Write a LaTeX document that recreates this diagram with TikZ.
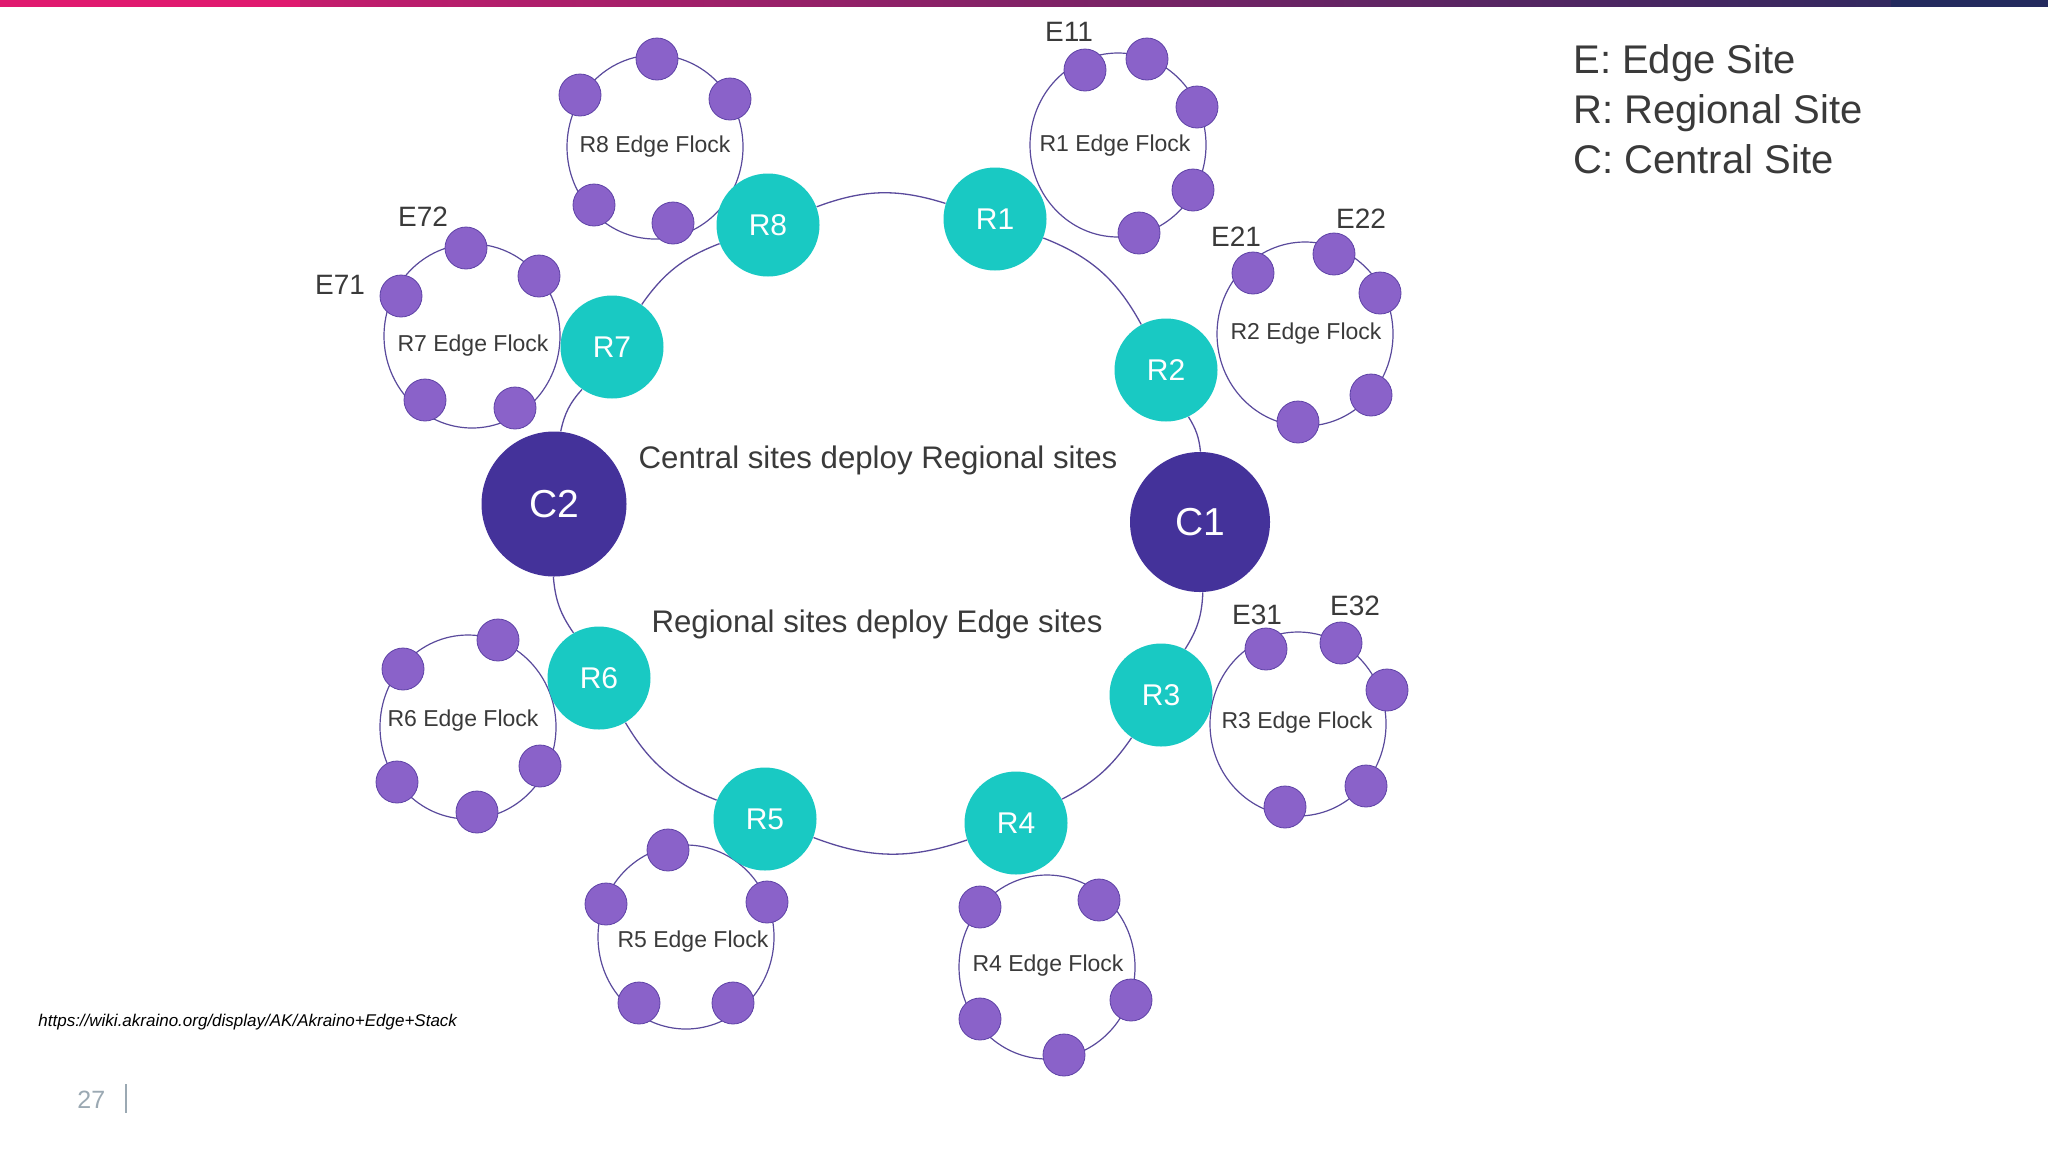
\documentclass[tikz,border=0pt]{standalone}
\usepackage{fontspec}
\setmainfont{Liberation Sans}
\usetikzlibrary{shapes.geometric}
\definecolor{teal1}{HTML}{19C9C3}
\definecolor{cdark}{HTML}{44329A}
\definecolor{dotfill}{HTML}{8A62C9}
\definecolor{dotline}{HTML}{5E42A6}
\definecolor{ringc}{HTML}{5A4A9C}
\definecolor{txt}{HTML}{3A3A3A}
\definecolor{pinkc}{HTML}{E01A6F}
\definecolor{magc}{HTML}{7A1F6E}
\definecolor{navyc}{HTML}{242A5E}
\definecolor{grayc}{HTML}{9BA9B3}
\begin{document}
\begin{tikzpicture}[x=0.5pt,y=-0.5pt,
 rsite/.style={circle,fill=teal1,minimum size=51.5pt,inner sep=0pt,text=white,font=\fontsize{15}{18}\selectfont},
 csite/.style={circle,fill=cdark,inner sep=0pt,text=white,font=\fontsize{19.5}{23}\selectfont},
 esite/.style={circle,fill=dotfill,draw=dotline,line width=0.4pt,minimum size=21pt,inner sep=0pt},
 flock/.style={ellipse,draw=ringc,line width=0.6pt,minimum width=88pt,minimum height=92pt,inner sep=0pt},
 flocktext/.style={text=txt,font=\fontsize{11.5}{14}\selectfont,inner sep=0pt},
 elabel/.style={text=txt,font=\fontsize{14}{16}\selectfont,inner sep=0pt},
 ring/.style={draw=ringc,line width=0.65pt},
 caption/.style={text=txt,font=\fontsize{15.6}{18}\selectfont,inner sep=0pt,anchor=base},
 legend/.style={text=txt,font=\fontsize{20}{24}\selectfont,inner sep=0pt,anchor=base west}]

\useasboundingbox (0,0) rectangle (2048,1152);
\fill[white] (0,0) rectangle (2048,1152);

% top bar
\shade[left color=pinkc,middle color=magc,right color=navyc] (0,0) rectangle (2048,6);
\fill[pinkc] (0,0) rectangle (300,7);
\fill[navyc] (1891,0) rectangle (2048,7);

% flock ellipses
\node[flock] (F8) at (655,147) {};
\node[flock] (F1) at (1118,145) {};
\node[flock] (F2) at (1305,334) {};
\node[flock] (F3) at (1298,724) {};
\node[flock] (F4) at (1047,967) {};
\node[flock] (F5) at (686,937) {};
\node[flock] (F6) at (468,727) {};
\node[flock] (F7) at (472,336) {};

% flock texts
\node[flocktext] (T8) at (655,147) {R8 Edge Flock};
\node[flocktext] (T1) at (1115,146) {R1 Edge Flock};
\node[flocktext] (T2) at (1306,334) {R2 Edge Flock};
\node[flocktext] (T3) at (1297,723) {R3 Edge Flock};
\node[flocktext] (T4) at (1048,966) {R4 Edge Flock};
\node[flocktext] (T5) at (693,942) {R5 Edge Flock};
\node[flocktext] (T6) at (463,721) {R6 Edge Flock};
\node[flocktext] (T7) at (473,346) {R7 Edge Flock};

% edge sites
\node[esite] (E81) at (657,59) {};
\node[esite] (E82) at (580,95) {};
\node[esite] (E83) at (730,99) {};
\node[esite] (E84) at (594,205) {};
\node[esite] (E85) at (673,223) {};

\node[esite] (E11) at (1085,70) {};
\node[esite] (E12) at (1147,59) {};
\node[esite] (E13) at (1197,107) {};
\node[esite] (E14) at (1193,190) {};
\node[esite] (E15) at (1139,233) {};

\node[esite] (E21) at (1253,273) {};
\node[esite] (E22) at (1334,254) {};
\node[esite] (E23) at (1380,293) {};
\node[esite] (E24) at (1371,395) {};
\node[esite] (E25) at (1298,422) {};

\node[esite] (E31) at (1266,649) {};
\node[esite] (E32) at (1341,643) {};
\node[esite] (E33) at (1387,690) {};
\node[esite] (E34) at (1366,786) {};
\node[esite] (E35) at (1285,807) {};

\node[esite] (E41) at (980,907) {};
\node[esite] (E42) at (1099,900) {};
\node[esite] (E43) at (1131,1000) {};
\node[esite] (E44) at (1064,1055) {};
\node[esite] (E45) at (980,1019) {};

\node[esite] (E51) at (668,850) {};
\node[esite] (E52) at (606,904) {};
\node[esite] (E53) at (767,902) {};
\node[esite] (E54) at (639,1003) {};
\node[esite] (E55) at (733,1003) {};

\node[esite] (E61) at (403,669) {};
\node[esite] (E62) at (498,640) {};
\node[esite] (E63) at (540,766) {};
\node[esite] (E64) at (477,812) {};
\node[esite] (E65) at (397,782) {};

\node[esite] (E71) at (401,296) {};
\node[esite] (E72) at (466,248) {};
\node[esite] (E73) at (539,276) {};
\node[esite] (E74) at (515,408) {};
\node[esite] (E75) at (425,400) {};

% edge labels
\node[elabel] (L11) at (1069,32) {E11};
\node[elabel] (L21) at (1236,237) {E21};
\node[elabel] (L22) at (1361,219) {E22};
\node[elabel] (L31) at (1257,615) {E31};
\node[elabel] (L32) at (1355,606) {E32};
\node[elabel] (L71) at (340,285) {E71};
\node[elabel] (L72) at (423,217) {E72};

% regional and central sites
\node[rsite] (R1) at (995,219) {R1};
\node[rsite] (R2) at (1166,370) {R2};
\node[rsite] (R3) at (1161,695) {R3};
\node[rsite] (R4) at (1016,823) {R4};
\node[rsite] (R5) at (765,819) {R5};
\node[rsite] (R6) at (599,678) {R6};
\node[rsite] (R7) at (612,347) {R7};
\node[rsite] (R8) at (768,225) {R8};
\node[csite,minimum size=72.5pt] (C2) at (554,504) {C2};
\node[csite,minimum size=70pt] (C1) at (1200,522) {C1};

% ring
\draw[ring] (C2) to[bend left=15] (R7);
\draw[ring] (R7) to[bend left=17] (R8);
\draw[ring] (R8) to[bend left=19] (R1);
\draw[ring] (R1) to[bend left=20] (R2);
\draw[ring] (R2) to[bend left=13] (C1);
\draw[ring] (C1) to[bend left=15] (R3);
\draw[ring] (R3) to[bend left=14] (R4);
\draw[ring] (R4) to[bend left=20] (R5);
\draw[ring] (R5) to[bend left=19] (R6);
\draw[ring] (R6) to[bend left=15] (C2);

% captions
\node[caption] (cap1) at (878,468) {Central sites deploy Regional sites};
\node[caption] (cap2) at (877,632) {Regional sites deploy Edge sites};

% legend
\node[legend] (lg1) at (1573,73) {E: Edge Site};
\node[legend] (lg2) at (1573,123) {R: Regional Site};
\node[legend] (lg3) at (1573,173) {C: Central Site};

% footer
\node[anchor=base west,inner sep=0pt,text=black,font=\itshape\fontsize{8.5}{10}\selectfont] (url) at (38,1026) {https://wiki.akraino.org/display/AK/Akraino+Edge+Stack};
\node[anchor=base west,inner sep=0pt,text=grayc,font=\fontsize{12.5}{15}\selectfont] (pg) at (77,1108) {27};
\draw[grayc,line width=1.1pt] (126,1084) -- (126,1113);
\end{tikzpicture}
\end{document}
